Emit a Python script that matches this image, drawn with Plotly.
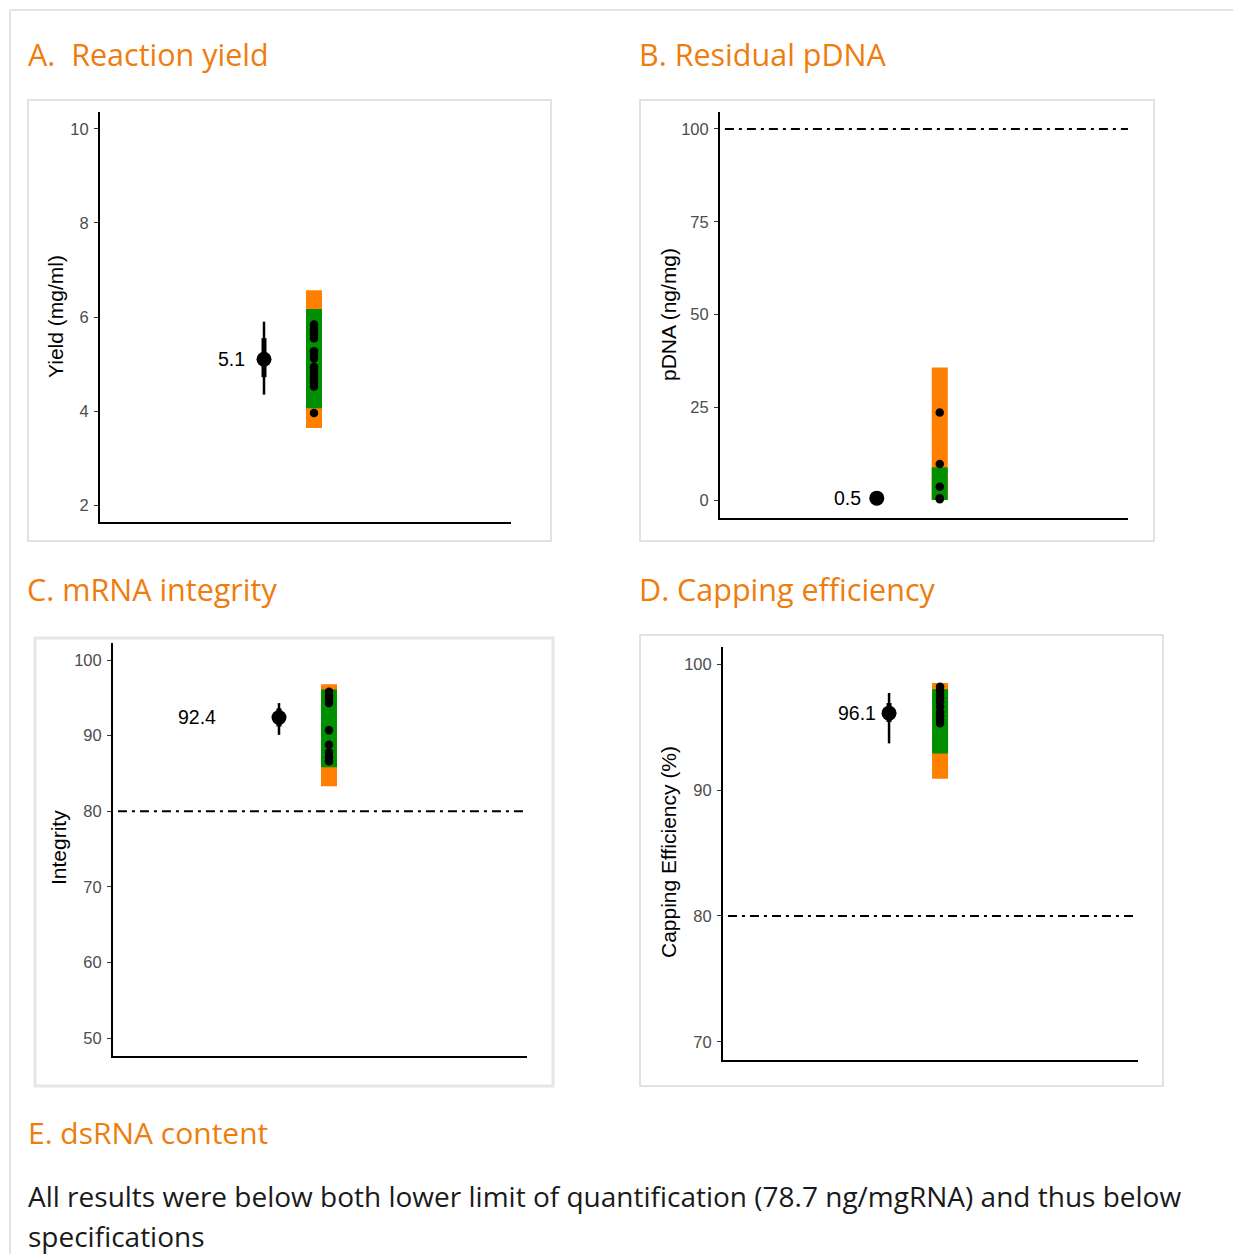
import plotly.graph_objects as go

W, H = 1233, 1254

# ---------------- data ----------------
titles = ["A.  Reaction yield", "B. Residual pDNA", "C. mRNA integrity", "D. Capping efficiency"]
y_titles = ["Yield (mg/ml)", "pDNA (ng/mg)", "Integrity", "Capping Efficiency (%)"]

est_values = [5.1, 0.5, 92.4, 96.1]
ci_outer_low = [4.35, 0.35, 90.1, 93.7]
ci_outer_high = [5.9, 0.65, 94.3, 97.7]
ci_inner_low = [4.72, 0.4, 91.2, 95.4]
ci_inner_high = [5.55, 0.6, 93.6, 96.9]

orange_low = [3.64, 0.0, 83.3, 90.9]
orange_high = [6.57, 35.7, 96.8, 98.5]
green_low = [4.06, 0.0, 85.8, 92.9]
green_high = [6.17, 8.8, 96.1, 98.0]

points_A = [5.84, 5.76, 5.69, 5.62, 5.55, 5.27, 5.19, 5.12, 4.94, 4.87, 4.80, 4.73, 4.66, 4.59, 4.52, 3.96]
points_B = [23.6, 9.7, 3.6, 0.5, 0.2]
points_C = [95.8, 95.3, 94.8, 94.3, 90.7, 88.8, 87.8, 87.2, 86.6]
points_D = [98.2, 97.9, 97.6, 97.3, 97.0, 96.6, 96.2, 95.9, 95.6, 95.3]
points = [points_A, points_B, points_C, points_D]

spec_limits = [None, 100, 80, 80]
y_tickvals = [[2, 4, 6, 8, 10], [0, 25, 50, 75, 100], [50, 60, 70, 80, 90, 100], [70, 80, 90, 100]]

est_x = 1      # position of the overall estimate
batch_x = 2    # position of the individual batches

section_e = "E. dsRNA content"
body_lines = ["All results were below both lower limit of quantification (78.7 ng/mgRNA) and thus below",
              "specifications"]

# ---------------- layout helpers ----------------
def fx(p):
    return p / W

def fy(p):
    return 1 - p / H

dom_px = [((100, 511), (112, 522)), ((720, 1128), (112, 518)),
          ((113, 527), (643, 1056)), ((723, 1138), (647, 1060))]
x_ranges = [[-2.28, 5.94], [-1.49, 4.99], [-2.32, 5.96], [-2.255, 5.88]]
y_ranges = [[1.64, 10.36], [-4.85, 104.58], [47.62, 102.25], [68.57, 101.35]]
bar_widths = [0.32, 0.254, 0.32, 0.314]
label_shift = [-17, -14, -61, -11]
box_px = [(28, 100, 551, 541), (640, 100, 1154, 541), (35, 638, 553, 1086), (640, 635, 1163, 1086)]
box_style = [("#D9D9D9", 1.5), ("#D9D9D9", 1.5), ("#E6E6E6", 3), ("#D9D9D9", 1.5)]
title_px = [(26, 54), (637, 54), (25, 589), (637, 589)]
ytitle_px = [(55, 317), (668, 315), (58, 848), (668, 852)]

ORANGE = "#FF7F00"
GREEN = "#008F00"
TITLE_C = "#EE7D0E"
AX_FONT = "Liberation Sans, Arial, sans-serif"
PAGE_FONT = "Open Sans, sans-serif"

fig = go.Figure()
layout = dict(width=W, height=H, margin=dict(l=0, r=0, t=0, b=0),
              paper_bgcolor="white", plot_bgcolor="white", showlegend=False,
              barmode="overlay")
shapes = []
annotations = []

for i in range(4):
    sx = "" if i == 0 else str(i + 1)
    xa, ya = "x" + sx, "y" + sx
    (x0, x1), (y0, y1) = dom_px[i]
    layout["xaxis" + sx] = dict(domain=[fx(x0), fx(x1)], range=x_ranges[i], anchor=ya,
                                showline=True, linecolor="black", linewidth=2,
                                showticklabels=False, ticks="", showgrid=False,
                                zeroline=False, fixedrange=True)
    layout["yaxis" + sx] = dict(domain=[fy(y1), fy(y0)], range=y_ranges[i], anchor=xa,
                                showline=True, linecolor="black", linewidth=2,
                                ticks="outside", ticklen=4, tickwidth=1.3, tickcolor="#333333",
                                tickvals=y_tickvals[i], ticklabelstandoff=2,
                                tickfont=dict(family=AX_FONT, size=16.5, color="#4D4D4D"),
                                showgrid=False, zeroline=False, fixedrange=True)

    # specification bands
    fig.add_trace(go.Bar(x=[batch_x], y=[orange_high[i] - orange_low[i]], base=[orange_low[i]],
                         width=bar_widths[i], marker=dict(color=ORANGE, line=dict(width=0)),
                         xaxis=xa, yaxis=ya, hoverinfo="skip"))
    fig.add_trace(go.Bar(x=[batch_x], y=[green_high[i] - green_low[i]], base=[green_low[i]],
                         width=bar_widths[i], marker=dict(color=GREEN, line=dict(width=0)),
                         xaxis=xa, yaxis=ya, hoverinfo="skip"))
    # individual results
    fig.add_trace(go.Scatter(x=[batch_x] * len(points[i]), y=points[i], mode="markers",
                             marker=dict(color="black", size=8.5), xaxis=xa, yaxis=ya))
    # estimate with intervals
    e = est_values[i]
    fig.add_trace(go.Scatter(x=[est_x], y=[e], mode="markers",
                             marker=dict(color="black", size=0.1),
                             error_y=dict(type="data", symmetric=False,
                                          array=[ci_outer_high[i] - e], arrayminus=[e - ci_outer_low[i]],
                                          thickness=2.5, width=0, color="black"),
                             xaxis=xa, yaxis=ya))
    fig.add_trace(go.Scatter(x=[est_x], y=[e], mode="markers",
                             marker=dict(color="black", size=15),
                             error_y=dict(type="data", symmetric=False,
                                          array=[ci_inner_high[i] - e], arrayminus=[e - ci_inner_low[i]],
                                          thickness=5, width=0, color="black"),
                             xaxis=xa, yaxis=ya))
    annotations.append(dict(x=est_x, y=e, xref=xa, yref=ya, text=f"{e:.1f}", showarrow=False,
                            xanchor="right", yanchor="middle", xshift=label_shift[i],
                            font=dict(family=AX_FONT, size=19.5, color="black")))
    if spec_limits[i] is not None:
        shapes.append(dict(type="line", xref=xa + " domain", x0=0.012, x1=1, yref=ya,
                           y0=spec_limits[i], y1=spec_limits[i],
                           line=dict(color="black", width=2, dash="9px,5px,3px,5px")))
    # panel frame
    bx0, by0, bx1, by1 = box_px[i]
    bc, bw = box_style[i]
    shapes.append(dict(type="rect", xref="paper", yref="paper", x0=fx(bx0), x1=fx(bx1),
                       y0=fy(by1), y1=fy(by0), line=dict(color=bc, width=bw),
                       fillcolor="rgba(0,0,0,0)", layer="below"))
    # titles
    tx, ty = title_px[i]
    annotations.append(dict(x=fx(tx), y=fy(ty), xref="paper", yref="paper", text=titles[i],
                            showarrow=False, xanchor="left", yanchor="middle",
                            font=dict(family=PAGE_FONT, size=30.5, color=TITLE_C)))
    ax_, ay_ = ytitle_px[i]
    annotations.append(dict(x=fx(ax_), y=fy(ay_), xref="paper", yref="paper", text=y_titles[i],
                            showarrow=False, xanchor="center", yanchor="middle", textangle=-90,
                            font=dict(family=AX_FONT, size=21, color="black")))

# outer card border
shapes.append(dict(type="line", xref="paper", yref="paper", x0=fx(10), x1=1, y0=fy(10), y1=fy(10),
                   line=dict(color="#E3E3E3", width=2)))
shapes.append(dict(type="line", xref="paper", yref="paper", x0=fx(10), x1=fx(10), y0=fy(10), y1=0,
                   line=dict(color="#E3E3E3", width=2)))

annotations.append(dict(x=fx(26), y=fy(1132), xref="paper", yref="paper", text=section_e,
                        showarrow=False, xanchor="left", yanchor="middle",
                        font=dict(family=PAGE_FONT, size=30, color=TITLE_C)))
for line, ly in zip(body_lines, [1196, 1236]):
    annotations.append(dict(x=fx(26), y=fy(ly), xref="paper", yref="paper", text=line,
                            showarrow=False, xanchor="left", yanchor="middle",
                            font=dict(family=PAGE_FONT, size=28, color="#1A1A1A")))

layout["shapes"] = shapes
layout["annotations"] = annotations
fig.update_layout(**layout)

fig.write_html("out.html", config={"displayModeBar": False},
               post_script="document.body.style.margin='0px';document.body.style.overflow='hidden';")
